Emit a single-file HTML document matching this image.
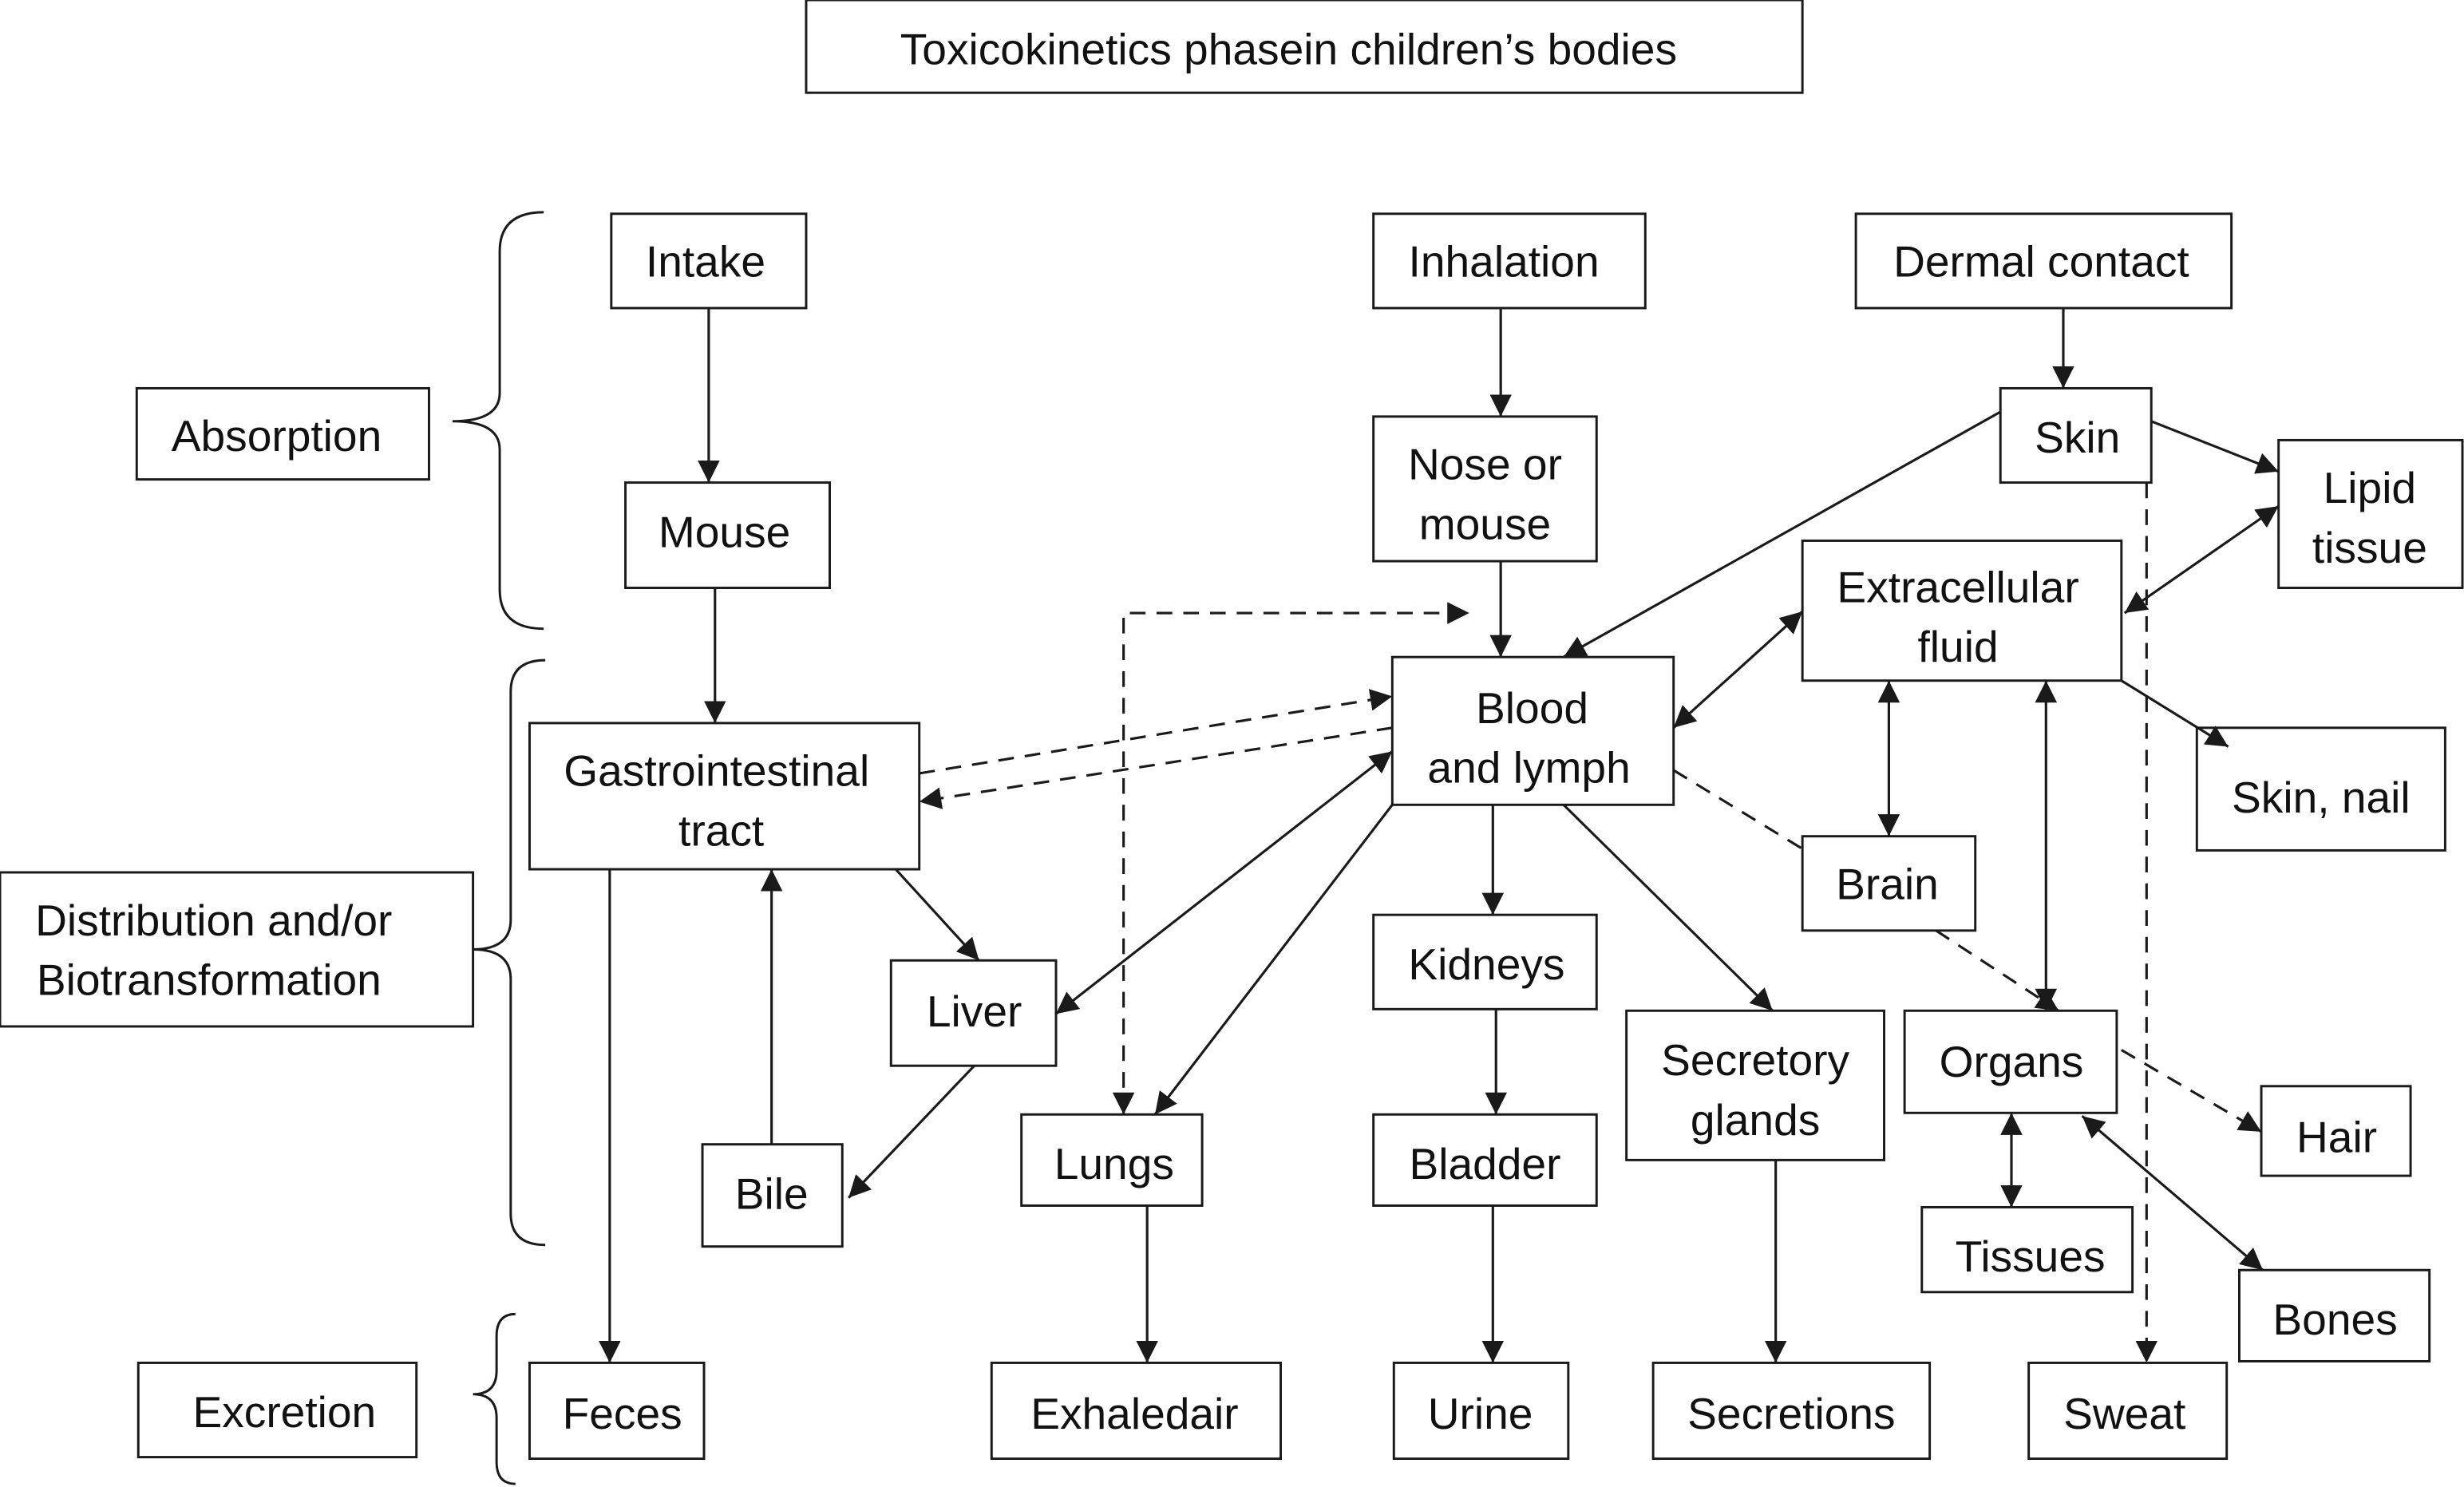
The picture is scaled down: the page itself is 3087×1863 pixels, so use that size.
<!DOCTYPE html>
<html><head><meta charset="utf-8"><style>html,body{margin:0;padding:0;background:#fff}svg{display:block}</style></head>
<body>
<svg width="3087" height="1863" viewBox="0 0 1568 946" preserveAspectRatio="none" xmlns="http://www.w3.org/2000/svg">
<defs>
<marker id="a" viewBox="0 0 10 10" refX="10" refY="5" markerWidth="14" markerHeight="14" markerUnits="userSpaceOnUse" orient="auto-start-reverse"><path d="M0,0 L10,5 L0,10 z" fill="#1a1a1a"/></marker>
</defs>
<g fill="#fff" stroke="#1a1a1a" stroke-width="1.5">
<rect x="513" y="0" width="634" height="59"/>
<rect x="389" y="136" width="124" height="60"/>
<rect x="874" y="136" width="173" height="60"/>
<rect x="1181" y="136" width="239" height="60"/>
<rect x="87" y="247" width="186" height="58"/>
<rect x="398" y="307" width="130" height="67"/>
<rect x="874" y="265" width="142" height="92"/>
<rect x="1273" y="247" width="96" height="60"/>
<rect x="1450" y="280" width="117" height="94"/>
<rect x="1147" y="344" width="203" height="89"/>
<rect x="886" y="418" width="179" height="94"/>
<rect x="337" y="460" width="248" height="93"/>
<rect x="0" y="555" width="301" height="98"/>
<rect x="1398" y="463" width="158" height="78"/>
<rect x="1147" y="532" width="110" height="60"/>
<rect x="567" y="611" width="105" height="67"/>
<rect x="874" y="582" width="142" height="60"/>
<rect x="1035" y="643" width="164" height="95"/>
<rect x="1212" y="643" width="135" height="65"/>
<rect x="1439" y="691" width="95" height="57"/>
<rect x="650" y="709" width="115" height="58"/>
<rect x="874" y="709" width="142" height="58"/>
<rect x="447" y="728" width="89" height="65"/>
<rect x="1223" y="768" width="134" height="54"/>
<rect x="1425" y="808" width="121" height="58"/>
<rect x="88" y="867" width="177" height="60"/>
<rect x="337" y="867" width="111" height="61"/>
<rect x="631" y="867" width="184" height="61"/>
<rect x="887" y="867" width="111" height="61"/>
<rect x="1052" y="867" width="176" height="61"/>
<rect x="1291" y="867" width="126" height="61"/>
</g>
<g fill="none" stroke="#1a1a1a" stroke-width="1.5">
<path d="M346,135 Q318,135 318,160 L318,250 Q318,268 288,268 Q318,268 318,286 L318,375 Q318,400 346,400"/>
<path d="M347,420 Q325,420 325,440 L325,585 Q325,604 301,604 Q325,604 325,623 L325,772 Q325,792 347,792"/>
<path d="M328,836 Q316,836 316,850 L316,872 Q316,887 301,887 Q316,887 316,902 L316,930 Q316,944 328,944"/>
</g>
<g stroke="#1a1a1a" stroke-width="1.6" fill="none" marker-end="url(#a)">
<line x1="451" y1="196" x2="451" y2="307"/>
<line x1="455" y1="374" x2="455" y2="460"/>
<line x1="955" y1="196" x2="955" y2="265"/>
<line x1="955" y1="357" x2="955" y2="418"/>
<line x1="1313" y1="196" x2="1313" y2="247"/>
<line x1="1273" y1="262" x2="995" y2="418"/>
<line x1="1369" y1="268" x2="1450" y2="300"/>
<line x1="1450" y1="322" x2="1352" y2="390" marker-start="url(#a)"/>
<line x1="1147" y1="389" x2="1065" y2="463" marker-start="url(#a)"/>
<line x1="1350" y1="433" x2="1418" y2="475"/>
<line x1="1202" y1="433" x2="1202" y2="532" marker-start="url(#a)"/>
<line x1="1302" y1="433" x2="1302" y2="643" marker-start="url(#a)"/>
<line x1="1232" y1="592" x2="1310" y2="643" stroke-dasharray="10,7"/>
<line x1="1350" y1="668" x2="1439" y2="720" stroke-dasharray="10,7"/>
<line x1="1366" y1="307" x2="1366" y2="867" stroke-dasharray="10,7"/>
<line x1="950" y1="512" x2="950" y2="582"/>
<line x1="952" y1="642" x2="952" y2="709"/>
<line x1="950" y1="767" x2="950" y2="867"/>
<line x1="995" y1="512" x2="1128" y2="643"/>
<line x1="1130" y1="738" x2="1130" y2="867"/>
<line x1="886" y1="478" x2="672" y2="645" marker-start="url(#a)"/>
<line x1="886" y1="512" x2="735" y2="709"/>
<line x1="730" y1="767" x2="730" y2="867"/>
<line x1="585" y1="492" x2="886" y2="443" stroke-dasharray="10,7"/>
<line x1="886" y1="463" x2="585" y2="510" stroke-dasharray="10,7"/>
<polyline points="715,709 715,390 935,390" stroke-dasharray="10,7" marker-start="url(#a)"/>
<line x1="570" y1="553" x2="623" y2="611"/>
<line x1="620" y1="678" x2="540" y2="762"/>
<line x1="491" y1="728" x2="491" y2="553"/>
<line x1="388" y1="553" x2="388" y2="867"/>
<line x1="1280" y1="708" x2="1280" y2="768" marker-start="url(#a)"/>
<line x1="1325" y1="710" x2="1440" y2="808" marker-start="url(#a)"/>
</g>
<line x1="1065" y1="490" x2="1147" y2="540" stroke="#1a1a1a" stroke-width="1.6" stroke-dasharray="10,7"/>
<g font-family="Liberation Sans, sans-serif" font-size="28" fill="#111" text-anchor="middle">
<text x="820" y="41">Toxicokinetics phasein children’s bodies</text>
<text x="449" y="176">Intake</text>
<text x="957" y="176">Inhalation</text>
<text x="1299" y="176">Dermal contact</text>
<text x="176" y="287">Absorption</text>
<text x="461" y="348">Mouse</text>
<text x="945" y="305">Nose or</text><text x="945" y="343">mouse</text>
<text x="1322" y="288">Skin</text>
<text x="1508" y="320">Lipid</text><text x="1508" y="358">tissue</text>
<text x="1246" y="383">Extracellular</text><text x="1246" y="421">fluid</text>
<text x="975" y="460">Blood</text><text x="973" y="498">and lymph</text>
<text x="456" y="500">Gastrointestinal</text><text x="459" y="538">tract</text>
<text x="136" y="595">Distribution and/or</text><text x="133" y="633">Biotransformation</text>
<text x="1477" y="517">Skin, nail</text>
<text x="1201" y="572">Brain</text>
<text x="620" y="653">Liver</text>
<text x="946" y="623">Kidneys</text>
<text x="1117" y="684">Secretory</text><text x="1117" y="722">glands</text>
<text x="1280" y="685">Organs</text>
<text x="1487" y="733">Hair</text>
<text x="709" y="750">Lungs</text>
<text x="945" y="750">Bladder</text>
<text x="491" y="769">Bile</text>
<text x="1292" y="809">Tissues</text>
<text x="1486" y="849">Bones</text>
<text x="181" y="908">Excretion</text>
<text x="396" y="909">Feces</text>
<text x="722" y="909">Exhaledair</text>
<text x="942" y="909">Urine</text>
<text x="1140" y="909">Secretions</text>
<text x="1352" y="909">Sweat</text>
</g>
</svg>
</body></html>
